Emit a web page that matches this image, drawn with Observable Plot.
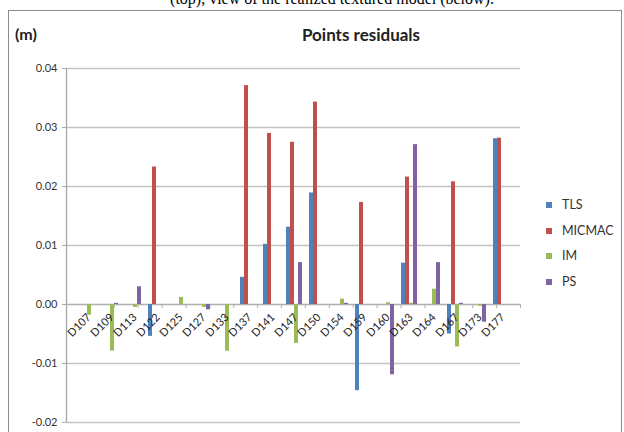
<!DOCTYPE html>
<html><head><meta charset="utf-8">
<script src="https://cdn.jsdelivr.net/npm/d3@7"></script>
<script src="https://cdn.jsdelivr.net/npm/@observablehq/plot@0.6"></script>
<style>
html,body{margin:0;padding:0;background:#fff;}
#wrap{position:relative;width:624px;height:432px;overflow:hidden;font-family:Lato,"Open Sans",sans-serif;color:#222;}
#caption{position:absolute;left:332px;top:-10px;transform:translateX(-50%);white-space:nowrap;font-family:"Liberation Serif","DejaVu Serif",serif;font-size:16px;color:#000;}
#box{position:absolute;left:8px;top:10px;width:612px;height:440px;border:1px solid #8c8c8c;}
#title{position:absolute;left:361px;top:24px;transform:translateX(-50%);white-space:nowrap;font-weight:bold;font-size:17px;}
#unit{position:absolute;left:15px;top:24px;font-weight:bold;font-size:16px;}
#legend{position:absolute;left:546px;top:197px;font-size:12.5px;color:#333;}
#legend .item{height:25.7px;display:flex;align-items:flex-start;}
#legend .sw{width:6px;height:6px;margin-top:5px;margin-right:10px;}
.layer{position:absolute;left:0;top:0;}
</style></head>
<body>
<div id="wrap">
  <div id="caption">(top), view of the realized textured model (below).</div>
  <div id="box"></div>
  <div id="unit">(m)</div>
  <div id="title">Points residuals</div>
  <div id="bg" class="layer"></div>
  <div id="fg" class="layer"></div>
  <div id="legend"></div>
</div>
<script>
const categories = ["D107","D109","D113","D122","D125","D127","D133","D137","D141","D147","D150","D154","D159","D160","D163","D164","D167","D173","D177"];
const seriesNames = ["TLS","MICMAC","IM","PS"];
const seriesColors = ["#4F81BD","#C0504D","#9BBB59","#8064A2"];
const tls    = [0, 0, 0, -0.0054, 0, 0, 0, 0.0046, 0.0102, 0.0131, 0.0189, 0, -0.0146, 0, 0.0070, 0, -0.0050, 0, 0.0281];
const micmac = [0, 0, 0, 0.0233, 0, 0, 0, 0.0371, 0.0290, 0.0275, 0.0343, 0, 0.0173, 0, 0.0216, 0, 0.0208, 0, 0.0282];
const im     = [-0.0018, -0.0079, -0.0005, 0, 0.0012, -0.0005, -0.0079, 0, 0, -0.0066, 0, 0.0009, 0, 0.0003, 0.0002, 0.0026, -0.0072, -0.0003, 0];
const ps     = [0, 0.0002, 0.0030, 0, 0, -0.0009, 0, 0, 0, 0.0071, 0, 0.0002, 0, -0.0119, 0.0271, 0.0071, 0.0002, -0.0030, 0];
const yTicks = [-0.02, -0.01, 0, 0.01, 0.02, 0.03, 0.04];

const seriesValues = [tls, micmac, im, ps];
const rows = categories.flatMap((c, i) => seriesNames.map((s, k) => ({category: c, series: s, value: seriesValues[k][i]})));

const dims = {width: 624, height: 432, marginTop: 68, marginBottom: 10, marginLeft: 66, marginRight: 104};
const yScale = {domain: [yTicks[0], yTicks[yTicks.length - 1]], axis: null};
const boundaries = d3.range(0, categories.length + 1);

// background layer: gridlines, value axis, category axis
const bg = Plot.plot({
  ...dims,
  x: {domain: [0, categories.length], axis: null},
  y: yScale,
  style: {fontFamily: "Lato, 'Open Sans', sans-serif", background: "transparent", overflow: "visible"},
  marks: [
    Plot.ruleY(yTicks.filter(d => d !== 0), {stroke: "#c4c4c4", strokeWidth: 1.6}),
    Plot.ruleX([0], {y1: yScale.domain[0], y2: yScale.domain[1], stroke: "#a8a8a8", strokeWidth: 1.3}),
    Plot.axisY({ticks: yTicks, tickFormat: d => d.toFixed(2), tickSize: 4, tickPadding: 5, fontSize: 11, stroke: "#a8a8a8", color: "#333"}),
    Plot.ruleY([0], {stroke: "#b0b0b0", strokeWidth: 1.5}),
    Plot.ruleX(boundaries.slice(1), {y1: 0, y2: -0.0007, stroke: "#b0b0b0"})
  ]
});
document.getElementById("bg").appendChild(bg);

// foreground layer: grouped bars and category labels
const fg = Plot.plot({
  ...dims,
  fx: {domain: categories, paddingInner: 0.27, paddingOuter: 0.135, axis: null},
  x: {domain: seriesNames, padding: 0, axis: null},
  y: yScale,
  color: {domain: seriesNames, range: seriesColors},
  style: {fontFamily: "Lato, 'Open Sans', sans-serif", background: "transparent", overflow: "visible"},
  marks: [
    Plot.barY(rows, {fx: "category", x: "series", y: "value", fill: "series"}),
    Plot.text(categories, {fx: d => d, y: () => 0, text: d => d, rotate: -45, textAnchor: "end", dy: 11, dx: 2, fontSize: 11, fill: "#222"})
  ]
});
document.getElementById("fg").appendChild(fg);

const legend = document.getElementById("legend");
seriesNames.forEach((s, k) => {
  const item = document.createElement("div");
  item.className = "item";
  const sw = document.createElement("span");
  sw.className = "sw";
  sw.style.background = seriesColors[k];
  const lab = document.createElement("span");
  lab.textContent = s;
  item.appendChild(sw); item.appendChild(lab);
  legend.appendChild(item);
});
</script>
</body></html>
